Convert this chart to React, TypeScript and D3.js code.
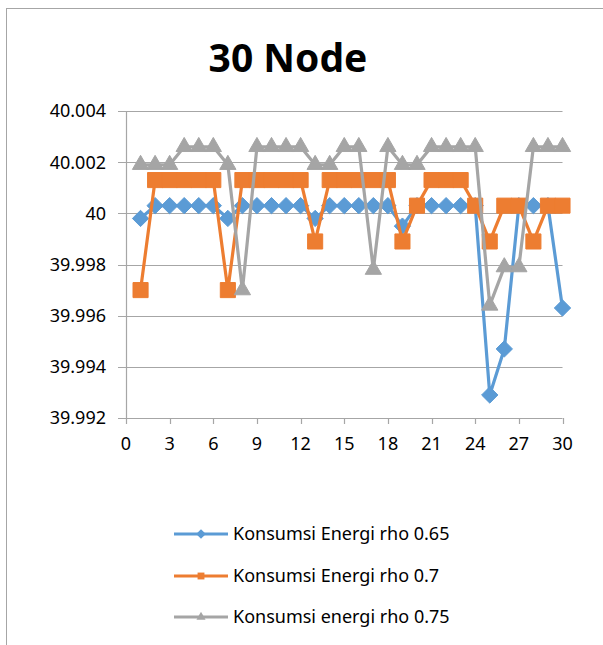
import * as d3 from "d3";
import { useEffect, useRef } from "react";

const nodes = d3.range(1, 31);

const rho065 = [
  39.9998, 40.0003, 40.0003, 40.0003, 40.0003, 40.0003, 39.9998, 40.0003, 40.0003, 40.0003,
  40.0003, 40.0003, 39.9998, 40.0003, 40.0003, 40.0003, 40.0003, 40.0003, 39.9995, 40.0003,
  40.0003, 40.0003, 40.0003, 40.0003, 39.9929, 39.9947, 40.0003, 40.0003, 40.0003, 39.9963
];

const rho07 = [
  39.997, 40.0013, 40.0013, 40.0013, 40.0013, 40.0013, 39.997, 40.0013, 40.0013, 40.0013,
  40.0013, 40.0013, 39.9989, 40.0013, 40.0013, 40.0013, 40.0013, 40.0013, 39.9989, 40.0003,
  40.0013, 40.0013, 40.0013, 40.0003, 39.9989, 40.0003, 40.0003, 39.9989, 40.0003, 40.0003
];

const rho075 = [
  40.0019, 40.0019, 40.0019, 40.0026, 40.0026, 40.0026, 40.0019, 39.997, 40.0026, 40.0026,
  40.0026, 40.0026, 40.0019, 40.0019, 40.0026, 40.0026, 39.9978, 40.0026, 40.0019, 40.0019,
  40.0026, 40.0026, 40.0026, 40.0026, 39.9964, 39.9979, 39.9979, 40.0026, 40.0026, 40.0026
];

const yTicks = [39.992, 39.994, 39.996, 39.998, 40, 40.002, 40.004];
const xTicks = d3.range(0, 31, 3);

const seriesList = [
  { label: "Konsumsi Energi rho 0.65", values: rho065, color: "#5b9bd5", symbol: d3.symbolDiamond2, size: 170 },
  { label: "Konsumsi Energi rho 0.7", values: rho07, color: "#ed7d31", symbol: d3.symbolSquare2, size: 290 },
  { label: "Konsumsi energi rho 0.75", values: rho075, color: "#a5a5a5", symbol: d3.symbolTriangle2, size: 190 }
];

export default function App() {
  const ref = useRef<SVGSVGElement | null>(null);

  useEffect(() => {
    if (!ref.current) {
      return;
    }
    const width = 603;
    const height = 645;
    const font = "'Noto Sans', sans-serif";
    const svg = d3.select(ref.current);
    svg.selectAll("*").remove();
    svg.attr("width", width).attr("height", height);

    svg.append("rect").attr("width", width).attr("height", height).attr("fill", "#fff");
    // chart frame (only left and top edges visible)
    svg
      .append("rect")
      .attr("x", 6.5)
      .attr("y", 8.5)
      .attr("width", 800)
      .attr("height", 800)
      .attr("fill", "none")
      .attr("stroke", "#a6a6a6");

    const x = d3.scaleLinear().domain([0, 30]).range([126, 562.5]);
    const y = d3.scaleLinear().domain([39.992, 40.004]).range([418, 111]);

    svg
      .append("text")
      .attr("x", 288)
      .attr("y", 72)
      .attr("text-anchor", "middle")
      .attr("font-family", font)
      .attr("font-weight", "bold")
      .attr("font-size", 39)
      .attr("fill", "#000")
      .text("30 Node");

    // gridlines
    svg
      .append("g")
      .selectAll("line")
      .data(yTicks)
      .join("line")
      .attr("x1", x(0) - 8)
      .attr("x2", x(30))
      .attr("y1", (d) => Math.round(y(d)) + 0.5)
      .attr("y2", (d) => Math.round(y(d)) + 0.5)
      .attr("stroke", "#a6a6a6")
      .attr("stroke-width", 1.2);

    // y axis line
    svg
      .append("line")
      .attr("x1", Math.round(x(0)) + 0.5)
      .attr("x2", Math.round(x(0)) + 0.5)
      .attr("y1", y(40.004))
      .attr("y2", y(39.992))
      .attr("stroke", "#a6a6a6")
      .attr("stroke-width", 1.2);

    // x ticks
    svg
      .append("g")
      .selectAll("line")
      .data(xTicks)
      .join("line")
      .attr("x1", (d) => Math.round(x(d)) + 0.5)
      .attr("x2", (d) => Math.round(x(d)) + 0.5)
      .attr("y1", y(39.992))
      .attr("y2", y(39.992) + 6)
      .attr("stroke", "#a6a6a6")
      .attr("stroke-width", 1.2);

    svg
      .append("g")
      .selectAll("text")
      .data(yTicks)
      .join("text")
      .attr("x", 106)
      .attr("y", (d) => y(d))
      .attr("dy", "0.36em")
      .attr("text-anchor", "end")
      .attr("font-family", font)
      .attr("font-size", 18)
      .attr("fill", "#000")
      .text((d) => d3.format("~f")(+d.toFixed(3)));

    svg
      .append("g")
      .selectAll("text")
      .data(xTicks)
      .join("text")
      .attr("x", (d) => x(d))
      .attr("y", 444)
      .attr("dy", "0.36em")
      .attr("text-anchor", "middle")
      .attr("font-family", font)
      .attr("font-size", 18)
      .attr("fill", "#000")
      .text((d) => String(d));

    const line = d3
      .line<number>()
      .x((_, i) => x(nodes[i]))
      .y((d) => y(d));

    seriesList.forEach((s) => {
      const g = svg.append("g");
      g.append("path")
        .attr("d", line(s.values))
        .attr("fill", "none")
        .attr("stroke", s.color)
        .attr("stroke-width", 3.2)
        .attr("stroke-linejoin", "round");
      g.selectAll("path.m")
        .data(s.values)
        .join("path")
        .attr("class", "m")
        .attr("transform", (d, i) => `translate(${x(nodes[i])},${y(d)})`)
        .attr("d", d3.symbol(s.symbol, s.size)())
        .attr("fill", s.color)
        .attr("stroke", s.color)
        .attr("stroke-width", 1);
    });

    // legend
    const legendY = [534, 576, 617];
    seriesList.forEach((s, i) => {
      const g = svg.append("g").attr("transform", `translate(0,${legendY[i]})`);
      g.append("line")
        .attr("x1", 174)
        .attr("x2", 228)
        .attr("stroke", s.color)
        .attr("stroke-width", 3.2);
      g.append("path")
        .attr("transform", "translate(201,0)")
        .attr("d", d3.symbol(s.symbol, 60)())
        .attr("fill", s.color);
      g.append("text")
        .attr("x", 233)
        .attr("dy", "0.36em")
        .attr("font-family", font)
        .attr("font-size", 18)
        .attr("fill", "#000")
        .text(s.label);
    });
  }, []);

  return <svg ref={ref} style={{ position: "absolute", left: 0, top: 0 }} aria-label="30 Node chart" />;
}
